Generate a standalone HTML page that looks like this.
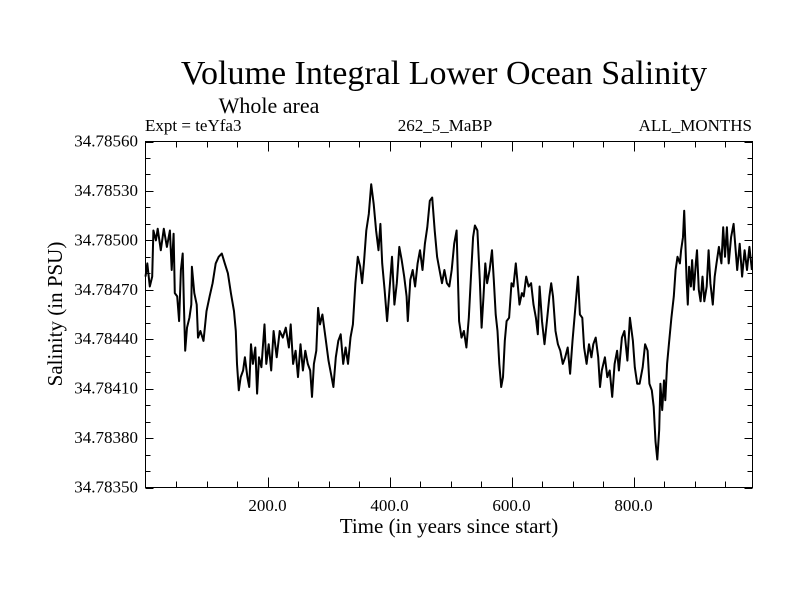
<!DOCTYPE html>
<html><head><meta charset="utf-8"><style>
html,body{margin:0;padding:0;background:#fff}
svg{display:block;font-family:"Liberation Serif",serif}
</style></head><body>
<svg id="chart" width="800" height="600" viewBox="0 0 800 600" xmlns="http://www.w3.org/2000/svg">
<rect width="800" height="600" fill="#fff"/>
<text x="444" y="84" font-size="34" text-anchor="middle">Volume Integral Lower Ocean Salinity</text>
<text x="269" y="113" font-size="22" text-anchor="middle">Whole area</text>
<text x="145" y="131" font-size="17">Expt = teYfa3</text>
<text x="445" y="131" font-size="17" text-anchor="middle">262_5_MaBP</text>
<text x="752" y="131" font-size="17" text-anchor="end">ALL_MONTHS</text>
<text x="449" y="533" font-size="21" text-anchor="middle">Time (in years since start)</text>
<text x="0" y="0" font-size="21" text-anchor="middle" transform="translate(62,314) rotate(-90)">Salinity (in PSU)</text>
<g id="axes"></g>
<g id="series"></g>
<rect x="145.5" y="141.5" width="607" height="346" fill="none" stroke="#000" stroke-width="1"/>
</svg>
<script>
const years = [0,3,7,11,13,17,20,25,30,35,40,43,46,48,52,55,58,61,63,65,68,72,75,76,80,84,86,90,95,100,105,110,115,120,125,130,135,140,145,148,150,153,156,160,163,167,170,173,176,180,183,186,190,195,198,202,206,210,215,220,225,230,235,238,242,246,250,254,258,262,266,270,273,276,280,283,286,290,295,300,305,308,312,316,320,324,328,332,336,340,344,348,352,355,358,362,366,370,374,378,382,385,388,392,396,400,404,408,412,416,420,424,428,430,434,438,442,446,450,454,458,462,466,470,474,478,482,486,490,494,498,502,506,510,514,518,522,526,530,534,537,540,544,548,551,554,557,560,564,568,571,574,577,580,583,586,589,592,596,600,603,607,610,613,617,620,624,628,632,636,640,643,646,650,654,658,662,665,668,672,676,680,684,688,692,696,700,709,712,716,719,723,727,731,734,738,742,745,748,753,757,761,765,769,773,776,781,785,790,794,799,802,806,810,815,819,823,826,830,833,836,839,842,844,847,850,852,855,858,862,866,869,872,876,878,881,883,885,887,889,891,894,896,899,902,904,907,910,913,916,920,923,926,930,933,936,940,944,947,950,953,956,960,964,967,970,974,978,982,986,990,994];
const salinity = [34.78478,34.78486,34.78472,34.78478,34.78506,34.78500,34.78507,34.78494,34.78507,34.78496,34.78506,34.78482,34.78504,34.78468,34.78466,34.78451,34.78482,34.78492,34.78461,34.78433,34.78447,34.78453,34.78461,34.78484,34.78468,34.78461,34.78441,34.78445,34.78439,34.78457,34.78466,34.78474,34.78486,34.78490,34.78492,34.78486,34.78480,34.78468,34.78457,34.78445,34.78425,34.78409,34.78417,34.78421,34.78429,34.78417,34.78411,34.78437,34.78425,34.78435,34.78407,34.78429,34.78423,34.78449,34.78425,34.78437,34.78421,34.78445,34.78429,34.78445,34.78441,34.78447,34.78435,34.78449,34.78425,34.78433,34.78417,34.78437,34.78421,34.78433,34.78425,34.78421,34.78405,34.78425,34.78433,34.78459,34.78449,34.78455,34.78441,34.78427,34.78417,34.78411,34.78429,34.78439,34.78443,34.78425,34.78435,34.78425,34.78441,34.78449,34.78474,34.78490,34.78484,34.78474,34.78486,34.78506,34.78516,34.78534,34.78522,34.78506,34.78494,34.78510,34.78486,34.78470,34.78451,34.78470,34.78490,34.78461,34.78474,34.78496,34.78488,34.78478,34.78466,34.78451,34.78476,34.78482,34.78472,34.78486,34.78494,34.78482,34.78498,34.78508,34.78524,34.78526,34.78506,34.78490,34.78482,34.78474,34.78482,34.78474,34.78472,34.78482,34.78498,34.78506,34.78451,34.78441,34.78445,34.78435,34.78453,34.78482,34.78502,34.78509,34.78506,34.78476,34.78447,34.78466,34.78486,34.78474,34.78482,34.78494,34.78476,34.78455,34.78445,34.78425,34.78411,34.78417,34.78439,34.78451,34.78453,34.78474,34.78472,34.78486,34.78474,34.78461,34.78468,34.78466,34.78478,34.78472,34.78474,34.78461,34.78453,34.78443,34.78472,34.78451,34.78437,34.78451,34.78466,34.78474,34.78466,34.78445,34.78437,34.78433,34.78425,34.78429,34.78435,34.78419,34.78439,34.78478,34.78455,34.78453,34.78435,34.78425,34.78437,34.78429,34.78437,34.78441,34.78429,34.78411,34.78421,34.78429,34.78417,34.78421,34.78405,34.78425,34.78433,34.78421,34.78441,34.78445,34.78427,34.78453,34.78439,34.78423,34.78413,34.78413,34.78423,34.78437,34.78433,34.78413,34.78409,34.78399,34.78378,34.78367,34.78385,34.78413,34.78397,34.78415,34.78403,34.78425,34.78437,34.78453,34.78466,34.78482,34.78490,34.78486,34.78494,34.78502,34.78518,34.78498,34.78476,34.78461,34.78484,34.78472,34.78488,34.78470,34.78486,34.78494,34.78470,34.78463,34.78478,34.78463,34.78472,34.78494,34.78474,34.78461,34.78478,34.78486,34.78496,34.78486,34.78508,34.78490,34.78508,34.78486,34.78502,34.78510,34.78496,34.78482,34.78498,34.78478,34.78494,34.78482,34.78496,34.78482];
const yTickValues = [34.78350,34.78380,34.78410,34.78440,34.78470,34.78500,34.78530,34.78560];
const yTickLabels = ["34.78350","34.78380","34.78410","34.78440","34.78470","34.78500","34.78530","34.78560"];
const xTickValues = [200,400,600,800];
const xTickLabels = ["200.0","400.0","600.0","800.0"];

const X0=145.5,X1=752.5,Y0=487.5,Y1=141.5;
const xMin=0,xMax=995,yMin=34.78350,yMax=34.78560;
function xs(v){return X0+(v-xMin)/(xMax-xMin)*(X1-X0);}
function ys(v){return Y0-(v-yMin)/(yMax-yMin)*(Y0-Y1);}
const NS="http://www.w3.org/2000/svg";
const axes=document.getElementById('axes');
function line(x1,y1,x2,y2,name){
  const l=document.createElementNS(NS,'line');
  l.setAttribute('x1',x1);l.setAttribute('y1',y1);l.setAttribute('x2',x2);l.setAttribute('y2',y2);
  l.setAttribute('stroke','#000');l.setAttribute('stroke-width','1');
  
  
  axes.appendChild(l);
}
for(let i=0;i<=21;i++){
  const v=yMin+i*0.0001;const y=Math.round(ys(v))+0.5;
  const major=(i%3===0);const len=major?8:5;
  line(X0,y,X0+len,y,'y-tick');
  line(X1,y,X1-len,y,'y-tick-right');
}
for(let v=50;v<xMax;v+=50){
  const x=Math.round(xs(v))+0.5;const major=(v%200===0);const len=major?10:6;
  line(x,Y0,x,Y0-len,'x-tick');
  line(x,Y1,x,Y1+len,'x-tick-top');
}
yTickValues.forEach((v,i)=>{
  const t=document.createElementNS(NS,'text');
  t.setAttribute('x',138);t.setAttribute('y',ys(v)+5);
  t.setAttribute('font-size','17');t.setAttribute('text-anchor','end');
  t.textContent=yTickLabels[i];
  
  
  axes.appendChild(t);
});
xTickValues.forEach((v,i)=>{
  const t=document.createElementNS(NS,'text');
  t.setAttribute('x',xs(v));t.setAttribute('y',511);
  t.setAttribute('font-size','17');t.setAttribute('text-anchor','middle');
  t.textContent=xTickLabels[i];
  
  
  axes.appendChild(t);
});
const p=document.createElementNS(NS,'path');
p.setAttribute('d',years.map((y,i)=>(i?'L':'M')+xs(y).toFixed(1)+' '+ys(salinity[i]).toFixed(1)).join(' '));
p.setAttribute('fill','none');p.setAttribute('stroke','#000');p.setAttribute('stroke-width','2');p.setAttribute('stroke-linejoin','round');


document.getElementById('series').appendChild(p);
</script>
</body></html>
